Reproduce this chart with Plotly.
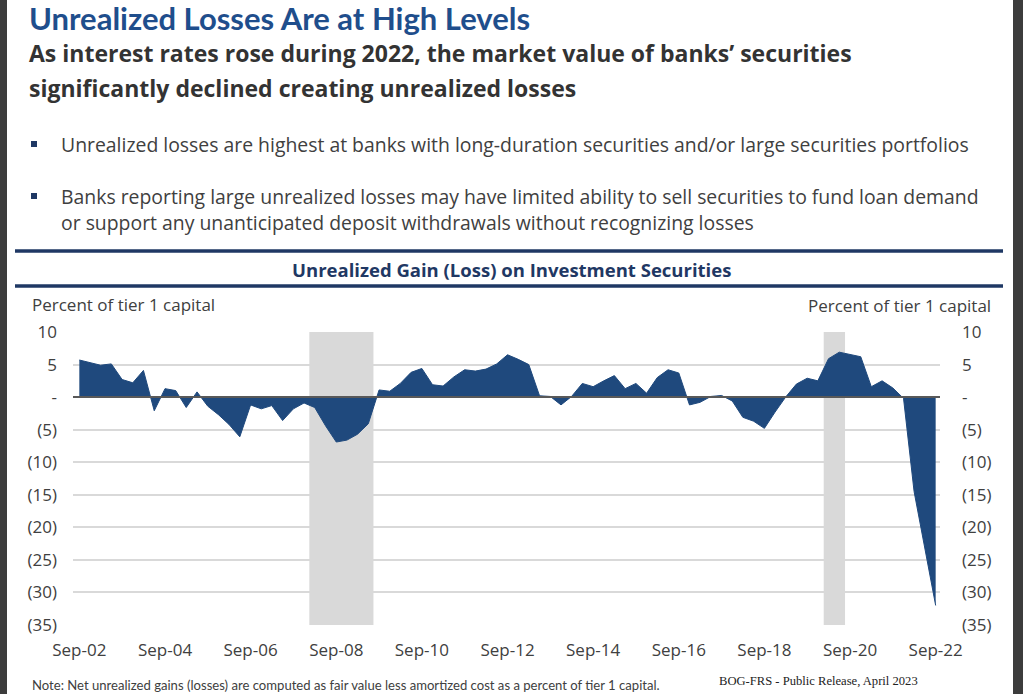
import pandas as pd
import plotly.graph_objects as go

# ---------------- data ----------------
dates = pd.date_range("2002-09-01", periods=81, freq="3MS").strftime("%Y-%m-%d").tolist()
unrealized_pct = [
    5.7, 5.3, 4.9, 5.1, 2.7, 2.2, 4.1, -2.1, 1.3, 1.0,
    -1.6, 0.8, -1.4, -2.7, -4.2, -6.1, -1.2, -1.8, -1.3, -3.6,
    -1.8, -0.9, -1.6, -4.4, -6.9, -6.6, -5.7, -4.1, 1.1, 0.9,
    2.1, 3.8, 4.4, 1.9, 1.7, 3.1, 4.2, 4.0, 4.3, 5.1,
    6.5, 5.8, 5.0, 0.2, 0.1, -1.2, 0.1, 2.1, 1.6, 2.5,
    3.3, 1.3, 2.1, 0.6, 3.0, 4.2, 3.7, -1.2, -0.8, 0.1,
    0.25, -0.6, -3.1, -3.7, -4.8, -2.3, 0.0, 2.0, 2.9, 2.5,
    5.9, 6.9, 6.5, 6.2, 1.6, 2.5, 1.4, -0.2, -14.5, -23.0,
    -32.0,
]
recessions = [("2008-01-15", "2009-07-15"), ("2020-01-20", "2020-07-20")]
y_tickvals = [10, 5, 0, -5, -10, -15, -20, -25, -30, -35]
y_ticktext = ["10", "5", "-", "(5)", "(10)", "(15)", "(20)", "(25)", "(30)", "(35)"]

title = "Unrealized Losses Are at High Levels"
subtitle_lines = [
    "As interest rates rose during 2022, the market value of banks\u2019 securities",
    "significantly declined creating unrealized losses",
]
bullets = [
    (144, "Unrealized losses are highest at banks with long-duration securities and/or large securities portfolios"),
    (196, "Banks reporting large unrealized losses may have limited ability to sell securities to fund loan demand"),
    (222, "or support any unanticipated deposit withdrawals without recognizing losses"),
]
chart_title = "Unrealized Gain (Loss) on Investment Securities"
axis_label = "Percent of tier 1 capital"
note = "Note: Net unrealized gains (losses) are computed as fair value less amortized cost as a percent of tier 1 capital."
source = "BOG-FRS - Public Release, April 2023"

# ---------------- layout helpers ----------------
W, H = 1023, 694
PL, PR, PT, PB = 73, 940, 332, 625
def px(x):
    return (x - PL) / (PR - PL)
def py(y):
    return (PB - y) / (PB - PT)

NAVY = "#1F497D"
DARK = "#1F3864"
TXT = "#404040"
FONT = "Lato"

fig = go.Figure()
fig.add_trace(go.Scatter(
    x=dates, y=unrealized_pct, mode="lines", fill="tozeroy",
    line=dict(color=NAVY, width=1), fillcolor=NAVY, showlegend=False,
    hoverinfo="x+y",
))
fig.add_trace(go.Scatter(
    x=dates, y=unrealized_pct, mode="lines", yaxis="y2",
    line=dict(color="rgba(0,0,0,0)", width=0), showlegend=False, hoverinfo="skip",
))

shapes = []
for x0, x1 in recessions:
    shapes.append(dict(type="rect", xref="x", yref="paper", x0=x0, x1=x1, y0=0, y1=1,
                       fillcolor="#D9D9D9", line=dict(width=0), layer="below"))
shapes.append(dict(type="line", xref="paper", yref="y", x0=0, x1=1, y0=0, y1=0,
                   line=dict(color="#595959", width=2), layer="above"))
# horizontal rules
for yy in (251, 286):
    shapes.append(dict(type="line", xref="paper", yref="paper", x0=px(15), x1=px(1003),
                       y0=py(yy), y1=py(yy), line=dict(color=DARK, width=3.5)))
# dark page borders
shapes.append(dict(type="rect", xref="paper", yref="paper", x0=px(0), x1=px(7), y0=py(H), y1=py(0),
                   fillcolor="#3C3C3C", line=dict(width=0)))
shapes.append(dict(type="rect", xref="paper", yref="paper", x0=px(1013), x1=px(W), y0=py(H), y1=py(0),
                   fillcolor="#3C3C3C", line=dict(width=0)))
# bullet squares
for yy, _ in bullets[:2]:
    shapes.append(dict(type="rect", xref="paper", yref="paper", x0=px(31), x1=px(37),
                       y0=py(yy + 3), y1=py(yy - 3), fillcolor=DARK, line=dict(width=0)))

ann = []
ann.append(dict(text="<b>" + title + "</b>", x=px(27), y=py(18), xref="paper", yref="paper", xanchor="left",
                yanchor="middle", showarrow=False,
                font=dict(family=FONT, size=31, color="#1F4E8C")))
for i, line in enumerate(subtitle_lines):
    ann.append(dict(text="<b>" + line + "</b>", x=px(27), y=py(53 + 35 * i), xref="paper", yref="paper",
                    xanchor="left", yanchor="middle", showarrow=False,
                    font=dict(family="Open Sans", size=23, color="#333333")))
for yy, t in bullets:
    ann.append(dict(text=t, x=px(59), y=py(yy), xref="paper", yref="paper", xanchor="left",
                    yanchor="middle", showarrow=False,
                    font=dict(family="Open Sans", size=19.4, color=TXT)))
ann.append(dict(text="<b>" + chart_title + "</b>", x=px(511), y=py(269), xref="paper", yref="paper",
                xanchor="center", yanchor="middle", showarrow=False,
                font=dict(family="Open Sans", size=18.5, color=DARK)))
ann.append(dict(text=axis_label, x=px(30), y=py(304), xref="paper", yref="paper", xanchor="left",
                yanchor="middle", showarrow=False, font=dict(family="Open Sans", size=17, color=TXT)))
ann.append(dict(text=axis_label, x=px(993), y=py(305), xref="paper", yref="paper", xanchor="right",
                yanchor="middle", showarrow=False, font=dict(family="Open Sans", size=17, color=TXT)))
ann.append(dict(text=note, x=px(30), y=py(685), xref="paper", yref="paper", xanchor="left",
                yanchor="middle", showarrow=False, font=dict(family=FONT, size=13.1, color=TXT)))
ann.append(dict(text=source, x=px(717), y=py(681), xref="paper", yref="paper", xanchor="left",
                yanchor="middle", showarrow=False, font=dict(family="Liberation Serif", size=12.6, color="#222222")))

tickfont = dict(family="Open Sans", size=17, color=TXT)
fig.update_layout(
    width=W, height=H,
    margin=dict(l=PL, r=W - PR, t=PT, b=H - PB),
    paper_bgcolor="white", plot_bgcolor="white",
    showlegend=False,
    shapes=shapes, annotations=ann,
    xaxis=dict(
        type="date", range=["2002-07-09", "2022-10-08"],
        tick0="2002-09-01", dtick="M24", tickformat="%b-%y",
        showgrid=False, zeroline=False, showline=False, ticks="",
        tickfont=tickfont, ticklabelstandoff=13,
    ),
    yaxis=dict(
        range=[-35, 10], tickvals=y_tickvals, ticktext=y_ticktext,
        showgrid=True, gridcolor="#D9D9D9", gridwidth=1.5,
        zeroline=False, showline=False, ticks="",
        tickfont=tickfont, ticklabelstandoff=15,
    ),
    yaxis2=dict(
        range=[-35, 10], tickvals=y_tickvals, ticktext=y_ticktext,
        overlaying="y", side="right", showgrid=False, zeroline=False, showline=False,
        ticks="", tickfont=tickfont, ticklabelstandoff=21,
    ),
)

fig.write_html("out.html")
